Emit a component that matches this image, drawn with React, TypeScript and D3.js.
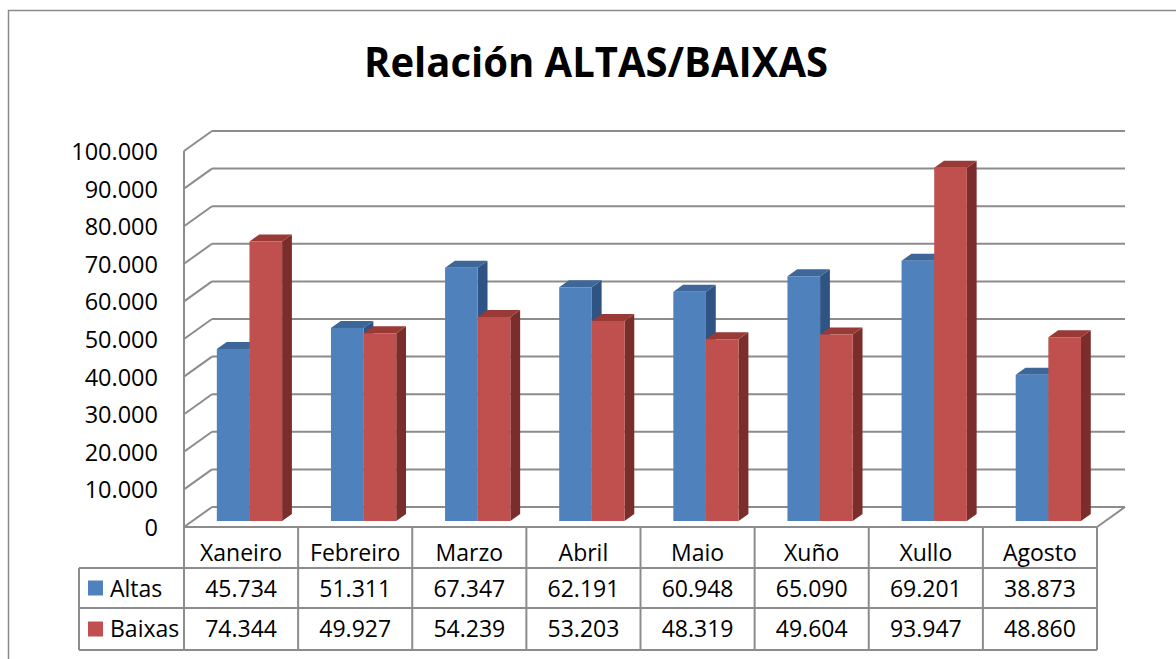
import React from "react";
import * as d3 from "d3";

const months = ["Xaneiro", "Febreiro", "Marzo", "Abril", "Maio", "Xuño", "Xullo", "Agosto"];
const altas = [45734, 51311, 67347, 62191, 60948, 65090, 69201, 38873];
const baixas = [74344, 49927, 54239, 53203, 48319, 49604, 93947, 48860];
const tickValues = [0, 10000, 20000, 30000, 40000, 50000, 60000, 70000, 80000, 90000, 100000];
const seriesNames = ["Altas", "Baixas"];

const W = 1176, H = 659;
const FONT = "'Open Sans', 'Liberation Sans', sans-serif";
const GRID = "#8c8c8c";
const colors = {
  Altas: { front: "#4F81BD", top: "#3D6799", side: "#2F5383" },
  Baixas: { front: "#C0504D", top: "#9A3A37", side: "#7A2D2B" },
};

const fmt = (v: number) => {
  if (v === 0) return "0";
  const s = String(v);
  return s.replace(/\B(?=(\d{3})+(?!\d))/g, ".");
};

export default function App() {
  const x0 = 184, x1 = 1097;
  const DX = 28, DY = -20;
  const y = d3.scaleLinear().domain([0, 100000]).range([527, 151]);
  const xb = d3.scaleBand().domain(months).range([x0, x1]);
  const bw = xb.bandwidth();
  const gw = bw * 0.572;
  const xs = d3.scaleBand().domain(seriesNames).range([(bw - gw) / 2, (bw + gw) / 2]);
  const barW = xs.bandwidth();
  const dFront = 0.3, dBack = 0.65;
  const P = (x: number, yy: number, d: number) => [x + DX * d, yy + DY * d];
  const pts = (arr: number[][]) => arr.map((p) => p.join(",")).join(" ");

  const rowTop = 527, row1 = 568, row2 = 608, row3 = 650, legL = 79;

  return (
    <svg width={W} height={H} style={{ position: "absolute", left: 0, top: 0, background: "#fff" }}>
      <rect x={0} y={0} width={W} height={H} fill="#fff" />
      {/* outer border */}
      <path d={`M8.5,${H} V10.5 H${W}`} fill="none" stroke="#8a8a8a" strokeWidth={1.5} />
      {/* title */}
      <text x={596} y={77} textAnchor="middle" fontFamily={FONT} fontWeight="bold" fontSize={42}
        textLength={464} lengthAdjust="spacingAndGlyphs" fill="#000">Relación ALTAS/BAIXAS</text>

      {/* gridlines: back wall + side wall */}
      {tickValues.map((t) => {
        const yf = y(t);
        const [bx, by] = P(x0, yf, 1);
        const [ex] = P(x1, yf, 1);
        return (
          <g key={t}>
            <line x1={x0} y1={yf} x2={bx} y2={by} stroke={GRID} strokeWidth={2} />
            <line x1={bx} y1={by} x2={ex} y2={by} stroke={GRID} strokeWidth={2} />
          </g>
        );
      })}
      <line x1={x0} y1={y(100000)} x2={x0} y2={y(0)} stroke={GRID} strokeWidth={2} />
      {/* floor right edge */}
      <line x1={x1} y1={y(0)} x2={x1 + DX} y2={y(0) + DY} stroke={GRID} strokeWidth={2} />

      {/* tick labels */}
      {tickValues.map((t) => (
        <text key={t} x={158} y={y(t)} dy="0.38em" textAnchor="end" fontFamily={FONT} fontSize={23.5} fill="#000">
          {fmt(t)}
        </text>
      ))}

      {/* bars */}
      {months.map((m, i) => (
        <g key={m}>
          {seriesNames.map((s) => {
            const v = s === "Altas" ? altas[i] : baixas[i];
            const c = (colors as any)[s];
            const xl = (xb(m) as number) + (xs(s) as number);
            const xr = xl + barW;
            const yt = y(v), y0 = y(0);
            const fl = P(xl, yt, dFront), fr = P(xr, yt, dFront);
            const frb = P(xr, y0, dFront), flb = P(xl, y0, dFront);
            const bl = P(xl, yt, dBack), br = P(xr, yt, dBack), brb = P(xr, y0, dBack);
            return (
              <g key={s}>
                <polygon points={pts([fr, br, brb, frb])} fill={c.side} />
                <polygon points={pts([fl, fr, br, bl])} fill={c.top} />
                <polygon points={pts([fl, fr, frb, flb])} fill={c.front} />
              </g>
            );
          })}
        </g>
      ))}

      {/* data table */}
      <g stroke={GRID} strokeWidth={2} fill="none">
        <line x1={x0} y1={rowTop} x2={x1} y2={rowTop} />
        <line x1={legL} y1={row1} x2={x1} y2={row1} />
        <line x1={legL} y1={row2} x2={x1} y2={row2} />
        <line x1={legL} y1={row3} x2={x1} y2={row3} />
        <line x1={legL} y1={row1} x2={legL} y2={row3} />
        {months.map((m) => (
          <line key={m} x1={xb(m) as number} y1={rowTop} x2={xb(m) as number} y2={row3} />
        ))}
        <line x1={x1} y1={rowTop} x2={x1} y2={row3} />
      </g>
      {months.map((m, i) => {
        const cx = (xb(m) as number) + bw / 2;
        return (
          <g key={m} fontFamily={FONT} fontSize={23} fill="#000" textAnchor="middle">
            <text x={cx} y={561}>{m}</text>
            <text x={cx} y={597}>{fmt(altas[i])}</text>
            <text x={cx} y={637}>{fmt(baixas[i])}</text>
          </g>
        );
      })}
      {seriesNames.map((s, k) => {
        const top = k === 0 ? row1 : row2;
        const bot = k === 0 ? row2 : row3;
        const cy = (top + bot) / 2;
        return (
          <g key={s}>
            <rect x={88} y={cy - 7.5} width={15} height={15} fill={(colors as any)[s].front} />
            <text x={110} y={k === 0 ? 597 : 637} fontFamily={FONT} fontSize={23} fill="#000">{s}</text>
          </g>
        );
      })}
    </svg>
  );
}
